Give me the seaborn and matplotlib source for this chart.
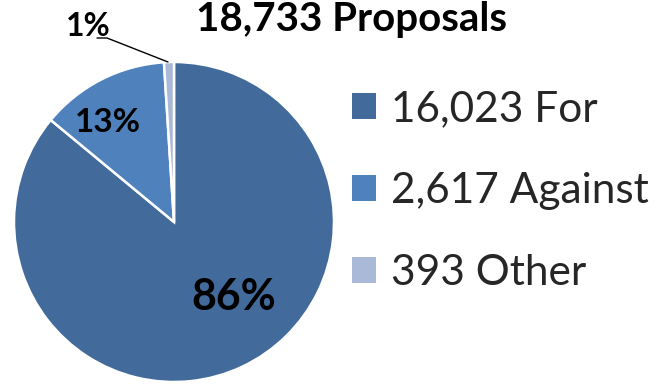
import matplotlib
matplotlib.use("Agg")
import matplotlib.pyplot as plt
import seaborn as sns
from matplotlib.patches import Patch

# ---- data ----
categories = ["For", "Against", "Other"]
counts = [16023, 2617, 393]
shares = [86, 13, 1]          # percentages shown on the chart
pct_labels = ["86%", "13%", "1%"]
title_text = "18,733 Proposals"
colors = ["#426B9C", "#4F81BD", "#AAB9D7"]

sns.set_theme(style="white")
plt.rcParams['font.family'] = ['Lato', 'DejaVu Sans']

W, H = 659, 384
fig = plt.figure(figsize=(W / 100, H / 100), dpi=100)
ax = fig.add_axes([0, 0, 1, 1])

cx, cy, r = 174, H - 222, 160
wedges, _ = ax.pie(shares, colors=colors, startangle=90, counterclock=False,
                   center=(cx, cy), radius=r, frame=True,
                   wedgeprops=dict(edgecolor="white", linewidth=1.8))
ax.set_xlim(0, W)
ax.set_ylim(0, H)
ax.set_aspect("auto")
ax.axis("off")

# percentage labels
label_pos = [(234, H - 297), (108, H - 122), (88, H - 26)]
label_size = [31, 24, 23]
for t, (x, y), s in zip(pct_labels, label_pos, label_size):
    ax.text(x, y, t, ha="center", va="center", fontsize=s, fontweight="bold",
            color="black")

# leader line for the small slice
ax.plot([97, 107, 168], [H - 38, H - 38, H - 62], color="black", lw=1.0)

# title
ax.text(352, H - 31, title_text, ha="center", va="baseline", fontsize=29,
        fontweight="bold", color="black")

# legend
handles = [Patch(facecolor=c, edgecolor="none") for c in colors]
labels = [f"{n:,} {c}" for n, c in zip(counts, categories)]
leg = ax.legend(handles, labels, loc="center left",
                bbox_to_anchor=(352 / W, (H - 191) / H), frameon=False,
                fontsize=30.5, handlelength=0.57, handleheight=0.57,
                handletextpad=0.35, labelspacing=1.03, borderaxespad=0,
                borderpad=0)

fig.savefig("out.png", dpi=100)
